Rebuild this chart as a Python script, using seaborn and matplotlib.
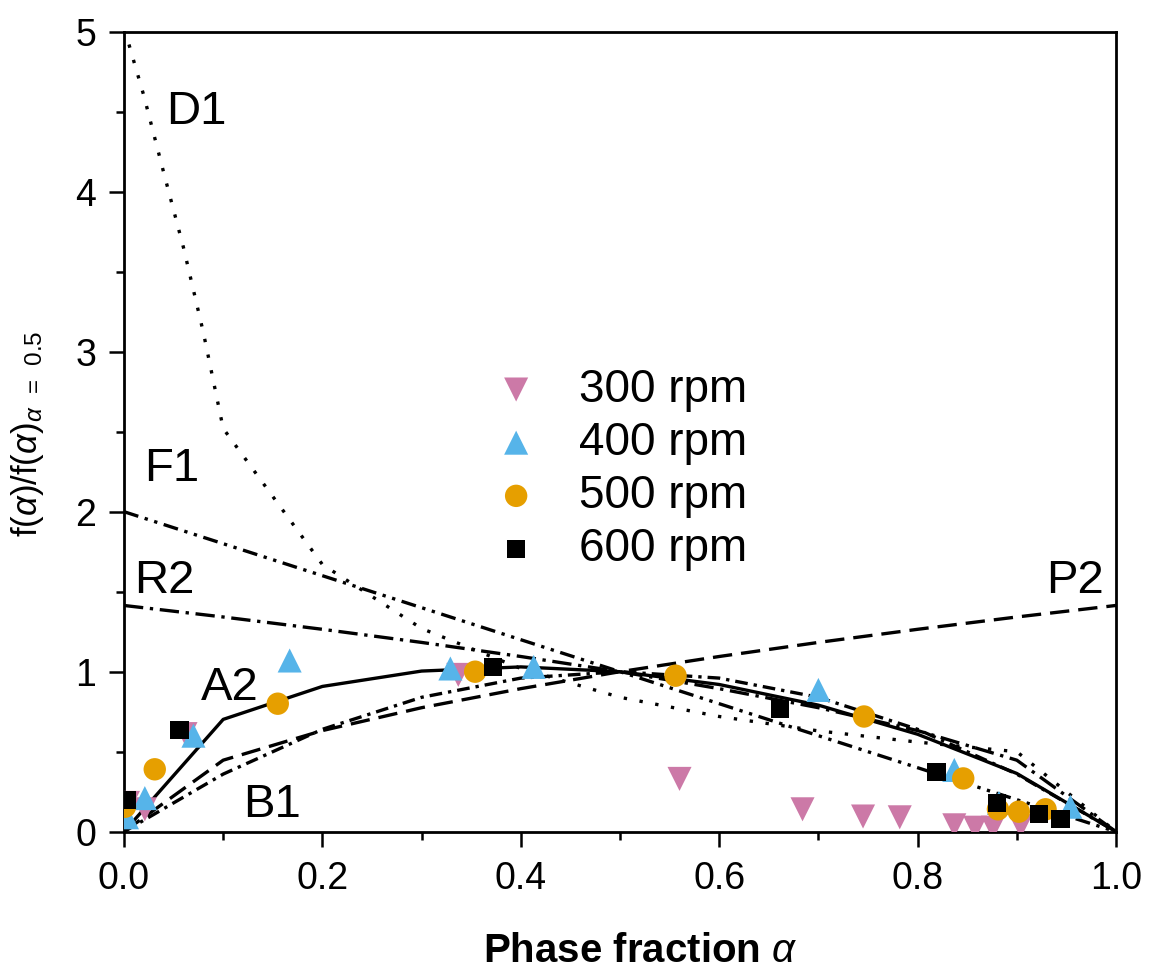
import matplotlib
matplotlib.use("Agg")
import matplotlib.pyplot as plt
import seaborn as sns
from matplotlib.ticker import MultipleLocator

# ---------------- data ----------------
alpha_grid = [0.0, 0.1, 0.2, 0.3, 0.4, 0.5, 0.6, 0.7, 0.8, 0.9, 1.0]
A2 = [0.0, 0.702, 0.908, 1.004, 1.030, 1.0, 0.920, 0.791, 0.609, 0.364, 0.0]
B1 = [0.0, 0.36, 0.64, 0.84, 0.96, 1.0, 0.96, 0.84, 0.64, 0.36, 0.0]
P2 = [0.0, 0.447, 0.632, 0.775, 0.894, 1.0, 1.095, 1.183, 1.265, 1.342, 1.414]
R2 = [1.414, 1.342, 1.265, 1.183, 1.095, 1.0, 0.894, 0.775, 0.632, 0.447, 0.0]
F1 = [2.0, 1.8, 1.6, 1.4, 1.2, 1.0, 0.8, 0.6, 0.4, 0.2, 0.0]

D1_alpha = [0.005, 0.02, 0.04, 0.06, 0.08, 0.1, 0.2, 0.3, 0.4, 0.5, 0.6, 0.7, 0.8, 0.9, 1.0]
D1 = [4.92, 4.6, 4.12, 3.65, 3.12, 2.52, 1.67, 1.27, 1.02, 0.84, 0.72, 0.63, 0.56, 0.50, 0.0]

a300 = [0.004, 0.021, 0.062, 0.337, 0.56, 0.684, 0.745, 0.782, 0.837, 0.858, 0.876, 0.904]
y300 = [0.18, 0.14, 0.61, 0.98, 0.33, 0.14, 0.095, 0.09, 0.04, 0.025, 0.025, 0.035]
a400 = [0.003, 0.021, 0.07, 0.167, 0.329, 0.413, 0.70, 0.837, 0.882, 0.954]
y400 = [0.09, 0.21, 0.60, 1.07, 1.02, 1.03, 0.886, 0.386, 0.18, 0.156]
a500 = [0.001, 0.031, 0.155, 0.354, 0.556, 0.746, 0.846, 0.881, 0.902, 0.929]
y500 = [0.156, 0.39, 0.80, 1.0, 0.975, 0.72, 0.333, 0.14, 0.125, 0.14]
a600 = [0.003, 0.056, 0.372, 0.661, 0.819, 0.880, 0.922, 0.944]
y600 = [0.198, 0.636, 1.03, 0.765, 0.375, 0.18, 0.11, 0.077]

series_labels = ["300 rpm", "400 rpm", "500 rpm", "600 rpm"]
model_labels = ["D1", "F1", "R2", "A2", "B1", "P2"]
x_ticklabels = ["0.0", "0.2", "0.4", "0.6", "0.8", "1.0"]
y_ticklabels = ["0", "1", "2", "3", "4", "5"]

# ---------------- style ----------------
sns.set_theme(style="white")
plt.rcParams["font.family"] = ["Liberation Sans", "DejaVu Sans"]
plt.rcParams["mathtext.fontset"] = "custom"
plt.rcParams["mathtext.rm"] = "Liberation Sans"
plt.rcParams["mathtext.it"] = "Liberation Sans:italic"
plt.rcParams["mathtext.bf"] = "Liberation Sans:bold"
for k in ["text.color", "axes.labelcolor", "xtick.color", "ytick.color"]:
    plt.rcParams[k] = "black"

fig = plt.figure(figsize=(11.49, 9.72), dpi=100)
ax = fig.add_axes([124 / 1149, 1 - 831.7 / 972, (1116 - 124) / 1149, 800 / 972])

lw = 2.4
curves = [
    (alpha_grid, F1, (0, (4.5, 2.0, 1.0, 2.0, 1.0, 2.0))),
    (alpha_grid, R2, (0, (5.8, 2.0, 1.0, 2.0))),
    (alpha_grid, P2, (0, (5.8, 2.7))),
    (alpha_grid, B1, (0, (3.8, 1.8, 1.0, 1.8))),
    (D1_alpha, D1, (0, (1.0, 3.8))),
    (alpha_grid, A2, "-"),
]
for xs, ys, ls in curves:
    sns.lineplot(x=xs, y=ys, ax=ax, color="black", linewidth=lw,
                 linestyle=ls, sort=False, estimator=None)

colors = ["#CC79A7", "#56B4E9", "#E69F00", "#000000"]
markers = ["v", "^", "o", "s"]
sizes = [300, 300, 260, 170]
xs_all = [a300, a400, a500, a600]
ys_all = [y300, y400, y500, y600]
for xs, ys, c, m, s, lab in zip(xs_all, ys_all, colors, markers, sizes, series_labels):
    sns.scatterplot(x=xs, y=ys, ax=ax, color=c, marker=m, s=s,
                    edgecolor="none", linewidth=0, label=lab, zorder=3)

# model annotations
label_pos = [(0.042, 4.5), (0.02, 2.27), (0.01, 1.57), (0.078, 0.90), (0.12, 0.17), (0.93, 1.57)]
for t, (xx, yy) in zip(model_labels, label_pos):
    ax.text(xx, yy, t, fontsize=34, va="center", ha="left", color="black")

ax.set_xlim(0, 1)
ax.set_ylim(0, 5)
ax.set_xticks([0, 0.2, 0.4, 0.6, 0.8, 1.0])
ax.set_xticklabels(x_ticklabels)
ax.set_yticks([0, 1, 2, 3, 4, 5])
ax.set_yticklabels(y_ticklabels)
ax.xaxis.set_minor_locator(MultipleLocator(0.1))
ax.yaxis.set_minor_locator(MultipleLocator(0.5))
ax.tick_params(axis="x", which="major", direction="out", length=11, width=1.8,
               labelsize=27, pad=10, bottom=True, top=False)
ax.tick_params(axis="y", which="major", direction="out", length=11, width=1.8,
               labelsize=27, pad=9, left=True, right=False)
ax.tick_params(axis="both", which="minor", direction="out", length=6, width=1.8,
               bottom=True, left=True, top=False, right=False)
for sp in ax.spines.values():
    sp.set_visible(True)
    sp.set_color("black")
    sp.set_linewidth(2.0)

ax.set_xlabel(r"Phase fraction $\alpha$", fontsize=29, fontweight="bold")
ax.xaxis.set_label_coords(0.52, -0.125)
ax.set_ylabel(r"f($\alpha$)/f($\alpha$)$_{\alpha\ \,=\ \,\mathit{0.5}}$", fontsize=25)
ax.yaxis.set_label_coords(-0.0786, 0.497)

ax.legend(loc="center left", bbox_to_anchor=(0.326, 0.453), frameon=False,
          fontsize=33, handletextpad=0.78, labelspacing=0.2, handlelength=1.2,
          markerscale=1.0)

fig.savefig("out.png", dpi=100)
